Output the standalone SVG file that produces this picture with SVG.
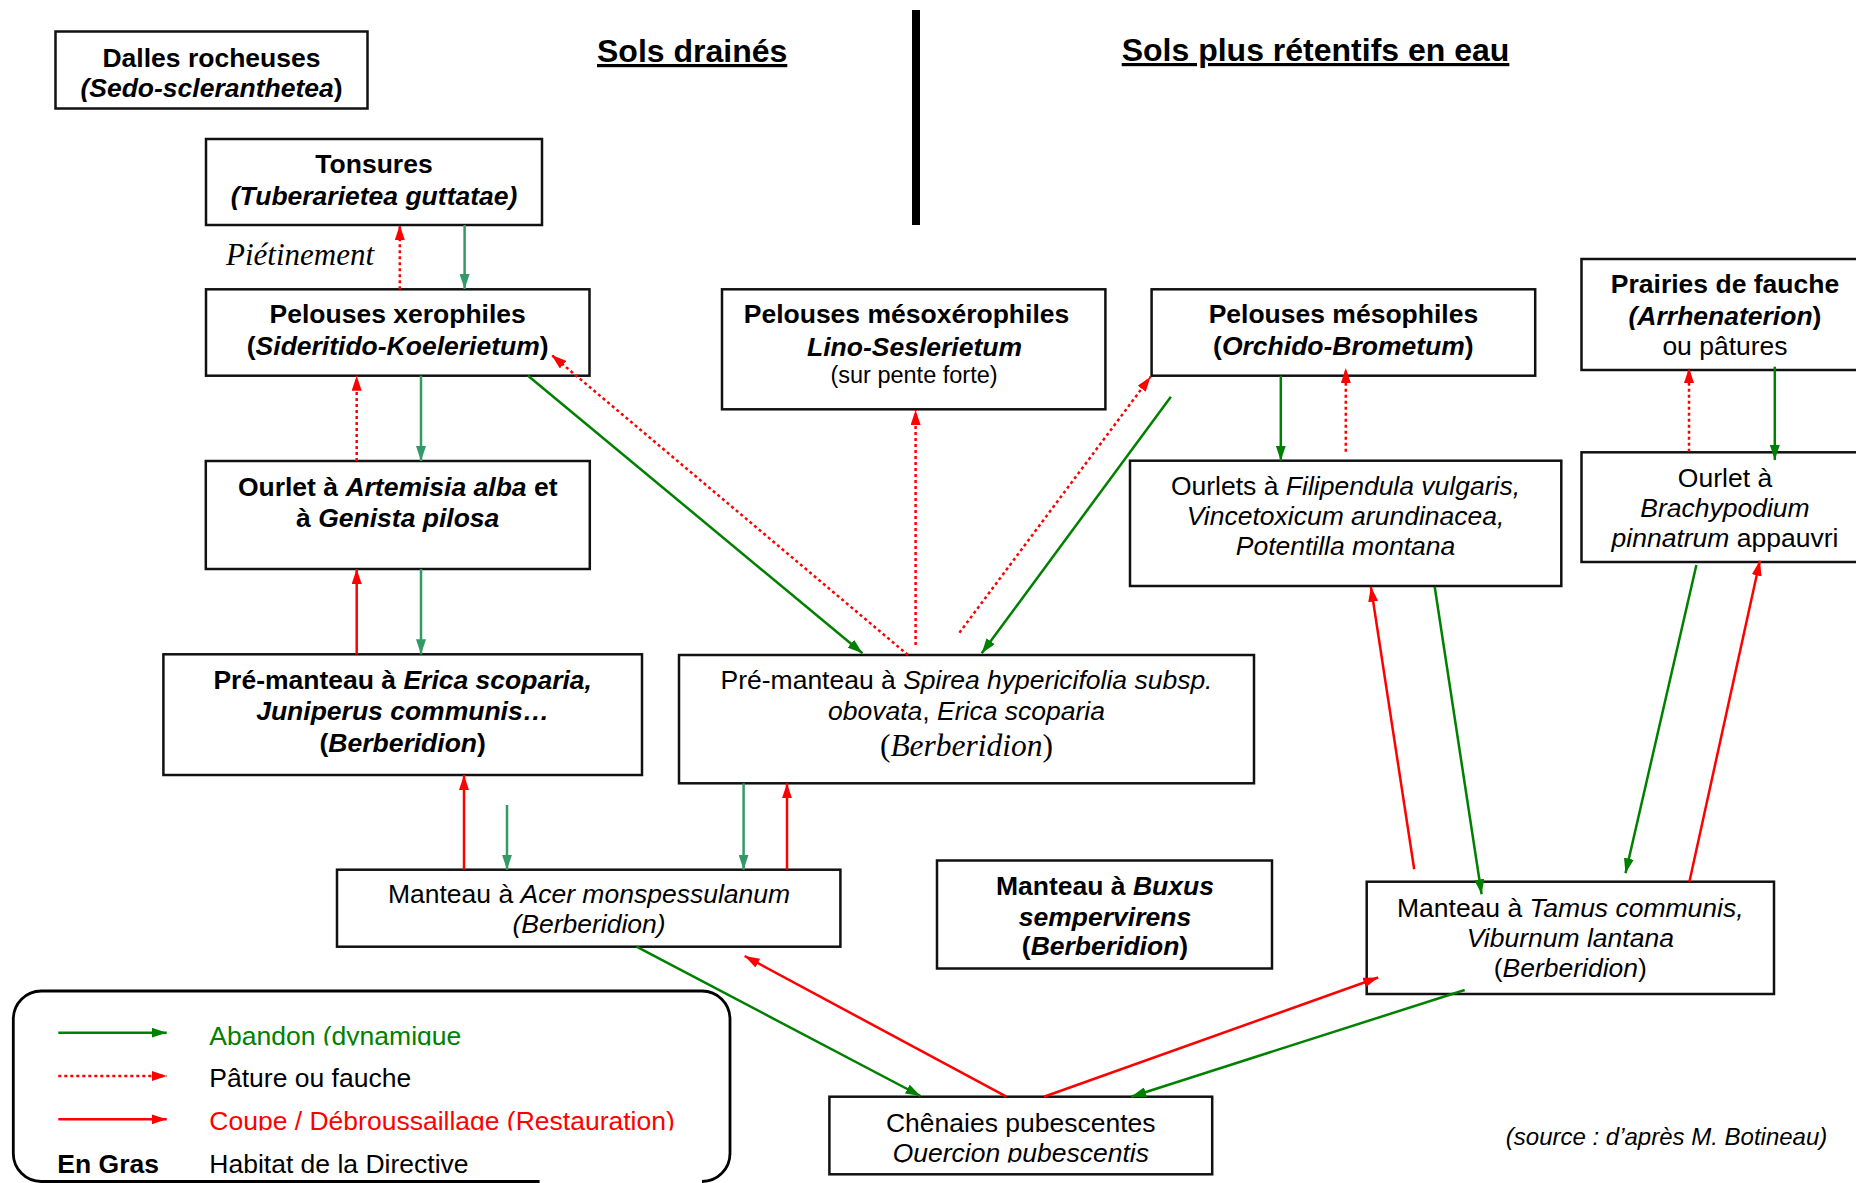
<svg xmlns="http://www.w3.org/2000/svg" width="1856" height="1183" viewBox="0 0 1856 1183">
<style>
.box{fill:#fff;stroke:#111;stroke-width:2.5}
.t{font-family:"Liberation Sans",Arial,sans-serif;font-size:26.5px;fill:#000;text-anchor:middle}
.s{text-anchor:start}
.b{font-weight:bold}
.i{font-style:italic}
.serif{font-family:"Liberation Serif","Times New Roman",serif}
.title{font-family:"Liberation Sans",Arial,sans-serif;font-size:32px;font-weight:bold;text-decoration:underline}
.c{fill:none;stroke-width:2.5}
.g{stroke:#008000;marker-end:url(#ag)}
.sg{stroke:#339966;marker-end:url(#asg)}
.r{stroke:#ff0000;marker-end:url(#ar)}
.rd{stroke:#ff0000;stroke-dasharray:3 3;marker-end:url(#ar)}
</style>
<defs>
<marker id="ag" markerUnits="userSpaceOnUse" markerWidth="15" markerHeight="10" refX="15" refY="5" orient="auto"><path d="M0,0 L15,5 L0,10 z" fill="#008000"/></marker>
<marker id="asg" markerUnits="userSpaceOnUse" markerWidth="15" markerHeight="10" refX="15" refY="5" orient="auto"><path d="M0,0 L15,5 L0,10 z" fill="#339966"/></marker>
<marker id="ar" markerUnits="userSpaceOnUse" markerWidth="15" markerHeight="10" refX="15" refY="5" orient="auto"><path d="M0,0 L15,5 L0,10 z" fill="#ff0000"/></marker>
<clipPath id="clipA"><rect x="200" y="1000" width="500" height="45.5"/></clipPath>
<clipPath id="clipC"><rect x="200" y="1090" width="520" height="40.5"/></clipPath>
<clipPath id="clipQ"><rect x="840" y="1136" width="360" height="26.5"/></clipPath>
</defs>

<g id="headers">
<text class="title" x="597" y="62">Sols drainés</text>
<text class="title" x="1121.7" y="61">Sols plus rétentifs en eau</text>
<rect x="912" y="10" width="8" height="215" fill="#000"/>
</g>

<g id="n-dalles">
<rect class="box" x="55.5" y="31.5" width="312" height="77"/>
<text class="t b" x="211.5" y="66.7">Dalles rocheuses</text>
<text class="t b" x="211.5" y="96.7"><tspan class="i">(Sedo-scleranthetea</tspan>)</text>
</g>

<g id="n-tonsures">
<rect class="box" x="206" y="139" width="336" height="86"/>
<text class="t b" x="374" y="173.3">Tonsures</text>
<text class="t b i" x="374" y="205">(Tuberarietea guttatae)</text>
</g>

<text id="lbl-pietinement" class="serif i" x="226" y="265" style="font-size:31px" fill="#000">Piétinement</text>

<g id="n-xero">
<rect class="box" x="206" y="289.3" width="383.5" height="86.4"/>
<text class="t b" x="397.7" y="323.3">Pelouses xerophiles</text>
<text class="t b" x="397.7" y="355">(<tspan class="i">Sideritido-Koelerietum</tspan>)</text>
</g>

<g id="n-mesoxero">
<rect class="box" x="722" y="289.3" width="383.4" height="120"/>
<text class="t b" x="906.5" y="323.3">Pelouses mésoxérophiles</text>
<text class="t b i" x="914.5" y="355.7">Lino-Seslerietum</text>
<text class="t" x="914" y="383.3" style="font-size:23.5px">(sur pente forte)</text>
</g>

<g id="n-meso">
<rect class="box" x="1151.6" y="289.3" width="383.6" height="86.4"/>
<text class="t b" x="1343.4" y="323.3">Pelouses mésophiles</text>
<text class="t b" x="1343.4" y="355">(<tspan class="i">Orchido-Brometum</tspan>)</text>
</g>

<g id="n-prairies">
<rect class="box" x="1581.5" y="259" width="300" height="111"/>
<text class="t b" x="1725" y="293.3">Prairies de fauche</text>
<text class="t b" x="1725" y="325"><tspan class="i">(Arrhenaterion</tspan>)</text>
<text class="t" x="1725" y="355">ou pâtures</text>
</g>

<g id="n-artemisia">
<rect class="box" x="205.8" y="461" width="384" height="108"/>
<text class="t b" x="397.7" y="496">Ourlet à <tspan class="i">Artemisia alba</tspan> et</text>
<text class="t b" x="397.7" y="526.7">à <tspan class="i">Genista pilosa</tspan></text>
</g>

<g id="n-filipendula">
<rect class="box" x="1130" y="460.7" width="431.3" height="125.3"/>
<text class="t" x="1345.5" y="495">Ourlets à <tspan class="i">Filipendula vulgaris,</tspan></text>
<text class="t i" x="1345.5" y="525">Vincetoxicum arundinacea,</text>
<text class="t i" x="1345.5" y="555">Potentilla montana</text>
</g>

<g id="n-brachypodium">
<rect class="box" x="1581.5" y="452.3" width="300" height="109.7"/>
<text class="t" x="1725" y="486.7">Ourlet à</text>
<text class="t i" x="1725" y="516.7">Brachypodium</text>
<text class="t" x="1725" y="546.7"><tspan class="i">pinnatrum</tspan> appauvri</text>
</g>

<g id="n-erica">
<rect class="box" x="163.4" y="654.3" width="478.6" height="120.7"/>
<text class="t b" x="402.7" y="689.3">Pré-manteau à <tspan class="i">Erica scoparia,</tspan></text>
<text class="t b i" x="402.7" y="720">Juniperus communis…</text>
<text class="t b" x="402.7" y="751.7">(<tspan class="i">Berberidion</tspan>)</text>
</g>

<g id="n-spirea">
<rect class="box" x="679" y="655" width="575" height="128.3"/>
<text class="t" x="966.5" y="689.3">Pré-manteau à <tspan class="i">Spirea hypericifolia subsp.</tspan></text>
<text class="t" x="966.5" y="720"><tspan class="i">obovata</tspan>, <tspan class="i">Erica scoparia</tspan></text>
<text class="t serif" x="966.5" y="756" style="font-size:31.5px">(<tspan class="i">Berberidion</tspan>)</text>
</g>

<g id="n-acer">
<rect class="box" x="337" y="869.7" width="503.4" height="77"/>
<text class="t" x="589" y="903.3">Manteau à <tspan class="i">Acer monspessulanum</tspan></text>
<text class="t i" x="589" y="933.3">(Berberidion)</text>
</g>

<g id="n-buxus">
<rect class="box" x="937" y="860.5" width="335" height="108"/>
<text class="t b" x="1105" y="895">Manteau à <tspan class="i">Buxus</tspan></text>
<text class="t b i" x="1105" y="925.7">sempervirens</text>
<text class="t b" x="1105" y="955">(<tspan class="i">Berberidion</tspan>)</text>
</g>

<g id="n-tamus">
<rect class="box" x="1366.7" y="881.7" width="407.3" height="112.3"/>
<text class="t" x="1570.3" y="916.7">Manteau à <tspan class="i">Tamus communis,</tspan></text>
<text class="t i" x="1570.3" y="946.7">Viburnum lantana</text>
<text class="t" x="1570.3" y="976.7">(<tspan class="i">Berberidion</tspan>)</text>
</g>

<g id="n-chenaies">
<rect class="box" x="829.4" y="1096.7" width="382.8" height="77.6"/>
<text class="t" x="1020.8" y="1131.7">Chênaies pubescentes</text>
<text class="t i" x="1020.8" y="1162" clip-path="url(#clipQ)">Quercion pubescentis</text>
</g>

<text id="source" class="t s i" x="1505.8" y="1145" style="font-size:24px">(source : d’après M. Botineau)</text>

<g id="connectors">
<line class="c sg" x1="464.6" y1="225" x2="464.6" y2="289"/>
<line class="c sg" x1="421" y1="375.7" x2="421" y2="461"/>
<line class="c sg" x1="421" y1="569" x2="421" y2="654.3"/>
<line class="c sg" x1="507" y1="805" x2="507" y2="869.7"/>
<line class="c sg" x1="743.6" y1="783.3" x2="743.6" y2="869.7"/>
<line class="c rd" x1="399.8" y1="289.3" x2="399.8" y2="225"/>
<line class="c rd" x1="356.7" y1="461" x2="356.7" y2="375.7"/>
<line class="c rd" x1="915.6" y1="645" x2="915.6" y2="410"/>
<line class="c rd" x1="1345.8" y1="451.7" x2="1345.8" y2="368"/>
<line class="c rd" x1="1689" y1="451.7" x2="1689" y2="368"/>
<line class="c g" x1="1280.8" y1="375.7" x2="1280.8" y2="460.7"/>
<line class="c g" x1="1774.8" y1="366.7" x2="1774.8" y2="460"/>
<line class="c r" x1="356.7" y1="654.3" x2="356.7" y2="569"/>
<line class="c r" x1="464" y1="869.7" x2="464" y2="775"/>
<line class="c r" x1="787" y1="869.7" x2="787" y2="783.3"/>
<line class="c g" x1="528" y1="375.7" x2="862.5" y2="653.3"/>
<line class="c rd" x1="908" y1="655" x2="551.6" y2="355"/>
<line class="c rd" x1="959.4" y1="632.7" x2="1150.6" y2="376.7"/>
<line class="c g" x1="1170.9" y1="396.7" x2="981.7" y2="653.3"/>
<line class="c r" x1="1414.2" y1="869.3" x2="1370.9" y2="586.7"/>
<line class="c g" x1="1434.7" y1="586.7" x2="1481.6" y2="894.3"/>
<line class="c g" x1="1696.4" y1="565" x2="1625.5" y2="873.3"/>
<line class="c r" x1="1689.4" y1="881.7" x2="1759.9" y2="560.7"/>
<line class="c r" x1="1044" y1="1096.7" x2="1378.2" y2="977.5"/>
<line class="c g" x1="1464.7" y1="990" x2="1131.2" y2="1096.7"/>
<line class="c r" x1="1006.4" y1="1096.7" x2="744.6" y2="956"/>
<line class="c g" x1="636.5" y1="946.7" x2="920.6" y2="1096"/>
</g>

<g id="legend">
<path d="M539.6,1181.5 L41.3,1181.5 A28,28 0 0 1 13.3,1153.5 L13.3,1019 A28,28 0 0 1 41.3,991 L702,991 A28,28 0 0 1 730,1019 L730,1153.5 A28,28 0 0 1 702,1181.5" fill="none" stroke="#000" stroke-width="2.8"/>
<line class="c g" x1="58.3" y1="1032.7" x2="166.7" y2="1032.7"/>
<line class="c rd" x1="58.3" y1="1076" x2="166.7" y2="1076"/>
<line class="c r" x1="58.3" y1="1119.3" x2="166.7" y2="1119.3"/>
<text class="t s" x="209.3" y="1045" style="fill:#008000" clip-path="url(#clipA)">Abandon (dynamique</text>
<text class="t s" x="209.3" y="1087.3">Pâture ou fauche</text>
<text class="t s" x="209.3" y="1130" style="fill:#ff0000" clip-path="url(#clipC)">Coupe / Débroussaillage (Restauration)</text>
<text class="t s b" x="57.3" y="1172.7">En Gras</text>
<text class="t s" x="209.3" y="1173">Habitat de la Directive</text>
</g>
</svg>
